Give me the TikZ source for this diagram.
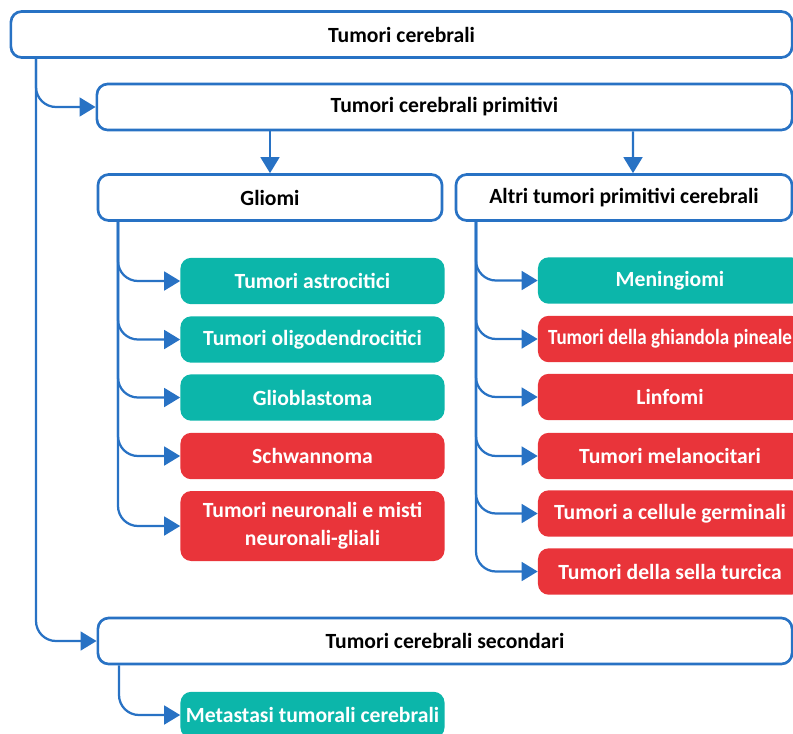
\documentclass[tikz,border=0pt]{standalone}
\usepackage{fontspec}
\setmainfont{Carlito}
\usepackage{graphicx}
\usetikzlibrary{arrows.meta}
\definecolor{lineblue}{RGB}{40,114,196}
\definecolor{tealfill}{RGB}{12,182,170}
\definecolor{redfill}{RGB}{233,52,58}
\tikzset{
  box/.style={draw=lineblue, line width=1.9pt, fill=white, rounded corners=0.27cm,
    minimum height=1.15cm, font=\fontsize{15.4}{20}\selectfont\bfseries},
  leaf/.style={draw=none, rounded corners=0.27cm, text=white, minimum width=6.6cm,
    minimum height=1.16cm, align=center, font=\fontsize{15.4}{20}\selectfont\bfseries},
  tealbox/.style={leaf, fill=tealfill},
  redbox/.style={leaf, fill=redfill},
  link/.style={draw=lineblue, line width=1.6pt, rounded corners=0.5cm,
    -{Triangle[length=0.4cm,width=0.47cm]}}
}
\begin{document}
\begin{tikzpicture}[x=0.025cm,y=-0.025cm]
\useasboundingbox (0,0) rectangle (793,733);
\clip (0,0) rectangle (793,733);
% livelli principali
\node[box, minimum width=19.525cm] (top) at (401.5,34.5) {Tumori cerebrali};
\node[box, minimum width=17.375cm] (prim) at (444.5,107) {Tumori cerebrali primitivi};
\node[box, minimum width=8.6cm] (gliomi) at (270,197.5) {Gliomi};
\node[box, minimum width=8.4cm] (altri) at (624,197.5) {Altri tumori primitivi cerebrali};
\node[box, minimum width=17.35cm] (sec) at (445,641) {Tumori cerebrali secondari};
% gliomi
\node[tealbox] (astro) at (312.5,281) {Tumori astrocitici};
\node[tealbox] (oligo) at (312.5,339.5) {Tumori oligodendrocitici};
\node[tealbox] (glio) at (312.5,397.5) {Glioblastoma};
\node[redbox] (schw) at (312.5,456) {Schwannoma};
\node[redbox, minimum height=1.75cm] (neur) at (312.5,526) {Tumori neuronali e misti\\neuronali-gliali};
% altri tumori
\node[tealbox] (menin) at (670,280.5) {Meningiomi};
\node[redbox] (pine) at (670,339) {\scalebox{0.88}[1]{Tumori della ghiandola pineale}};
\node[redbox] (linf) at (670,397) {Linfomi};
\node[redbox] (mela) at (670,456) {Tumori melanocitari};
\node[redbox] (germ) at (670,513.5) {Tumori a cellule germinali};
\node[redbox] (sella) at (670,571.5) {Tumori della sella turcica};
% secondari
\node[tealbox] (meta) at (312.5,715) {Metastasi tumorali cerebrali};
% tronchi
\coordinate (trunk) at (36,0);
\coordinate (gtrunk) at (118,0);
\coordinate (atrunk) at (476,0);
\coordinate (strunk) at (119,0);
\draw[link] (top.south -| trunk) |- (prim.west);
\draw[link] (top.south -| trunk) |- (sec.west);
\draw[link] (prim.south -| gliomi.north) -- (gliomi.north);
\draw[link] (prim.south -| altri.north) ++(9,0) -- ([xshift=0.225cm]altri.north);
\foreach \n in {astro,oligo,glio,schw,neur}
  \draw[link] (gliomi.south -| gtrunk) |- (\n.west);
\foreach \n in {menin,pine,linf,mela,germ,sella}
  \draw[link] (altri.south -| atrunk) |- (\n.west);
\draw[link] (sec.south -| strunk) |- (meta.west);
\end{tikzpicture}
\end{document}
